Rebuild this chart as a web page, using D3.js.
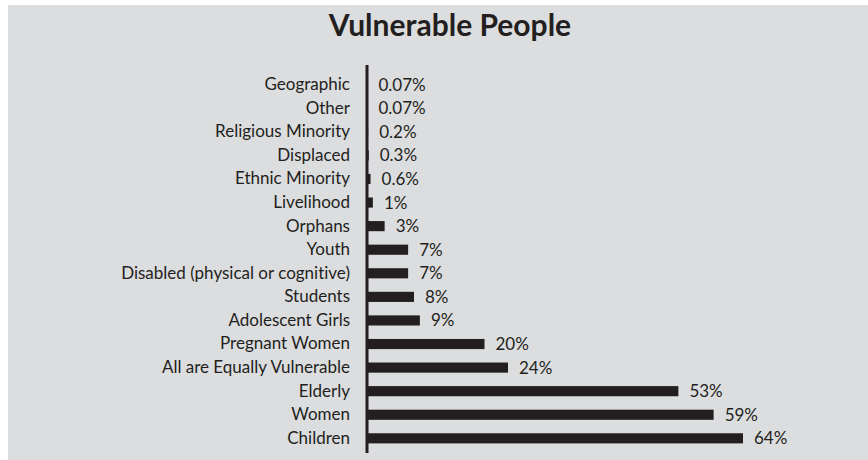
<!DOCTYPE html>
<html>
<head>
<meta charset="utf-8">
<script src="https://cdn.jsdelivr.net/npm/d3@7/dist/d3.min.js"></script>
<style>
  html, body { margin: 0; padding: 0; background: #ffffff; }
  svg { display: block; }
  text { font-family: Lato, "Open Sans", sans-serif; fill: #231f20; font-variant-ligatures: none; }
</style>
</head>
<body>
<svg id="chart" width="868" height="460"></svg>
<script>
// Groups named as vulnerable, top row first
const categories = [
  "Geographic", "Other", "Religious Minority", "Displaced", "Ethnic Minority",
  "Livelihood", "Orphans", "Youth", "Disabled (physical or cognitive)", "Students",
  "Adolescent Girls", "Pregnant Women", "All are Equally Vulnerable", "Elderly",
  "Women", "Children"
];
// Share of responses, percent
const values = [0.07, 0.07, 0.2, 0.3, 0.6, 1, 3, 7, 7, 8, 9, 20, 24, 53, 59, 64];
const valueLabels = ["0.07%", "0.07%", "0.2%", "0.3%", "0.6%", "1%", "3%", "7%", "7%", "8%", "9%", "20%", "24%", "53%", "59%", "64%"];
const title = "Vulnerable People";

const W = 868, H = 460;
const svg = d3.select("#chart");

// panel background
svg.append("rect")
  .attr("x", 8).attr("y", 5)
  .attr("width", W - 8).attr("height", H - 5)
  .attr("fill", "#dcdddf");

svg.append("text")
  .attr("x", 450).attr("y", 36)
  .attr("text-anchor", "middle")
  .style("font-size", "30px")
  .style("font-weight", "bold")
  .text(title);

const axisX = 367;
const x = d3.scaleLinear().domain([0, 64]).range([axisX, 743]);
const y = d3.scaleBand().domain(categories).range([73, 450]).paddingInner(0.57).paddingOuter(0.28);

const rows = categories.map((c, i) => ({ c, v: values[i], label: valueLabels[i] }));

svg.append("g").selectAll("rect")
  .data(rows)
  .join("rect")
  .attr("x", x(0))
  .attr("y", d => y(d.c))
  .attr("width", d => x(d.v) - x(0))
  .attr("height", y.bandwidth())
  .attr("fill", "#231f20");

// category labels via a left axis with hidden ticks
const yAxis = d3.axisLeft(y).tickSize(0).tickPadding(17);
const gy = svg.append("g").attr("transform", `translate(${axisX},0)`).call(yAxis);
gy.select(".domain").remove();
gy.selectAll("text")
  .style("font-size", "17px")
  .style("font-family", "Lato, 'Open Sans', sans-serif")
  .attr("fill", "#231f20");

// vertical axis line
svg.append("line")
  .attr("x1", axisX).attr("x2", axisX)
  .attr("y1", 65).attr("y2", 453)
  .attr("stroke", "#231f20")
  .attr("stroke-width", 3);

svg.append("g").selectAll("text")
  .data(rows)
  .join("text")
  .attr("x", d => x(d.v) + 11)
  .attr("y", d => y(d.c) + y.bandwidth() / 2)
  .attr("dy", "0.35em")
  .style("font-size", "17px")
  .text(d => d.label);
</script>
</body>
</html>
